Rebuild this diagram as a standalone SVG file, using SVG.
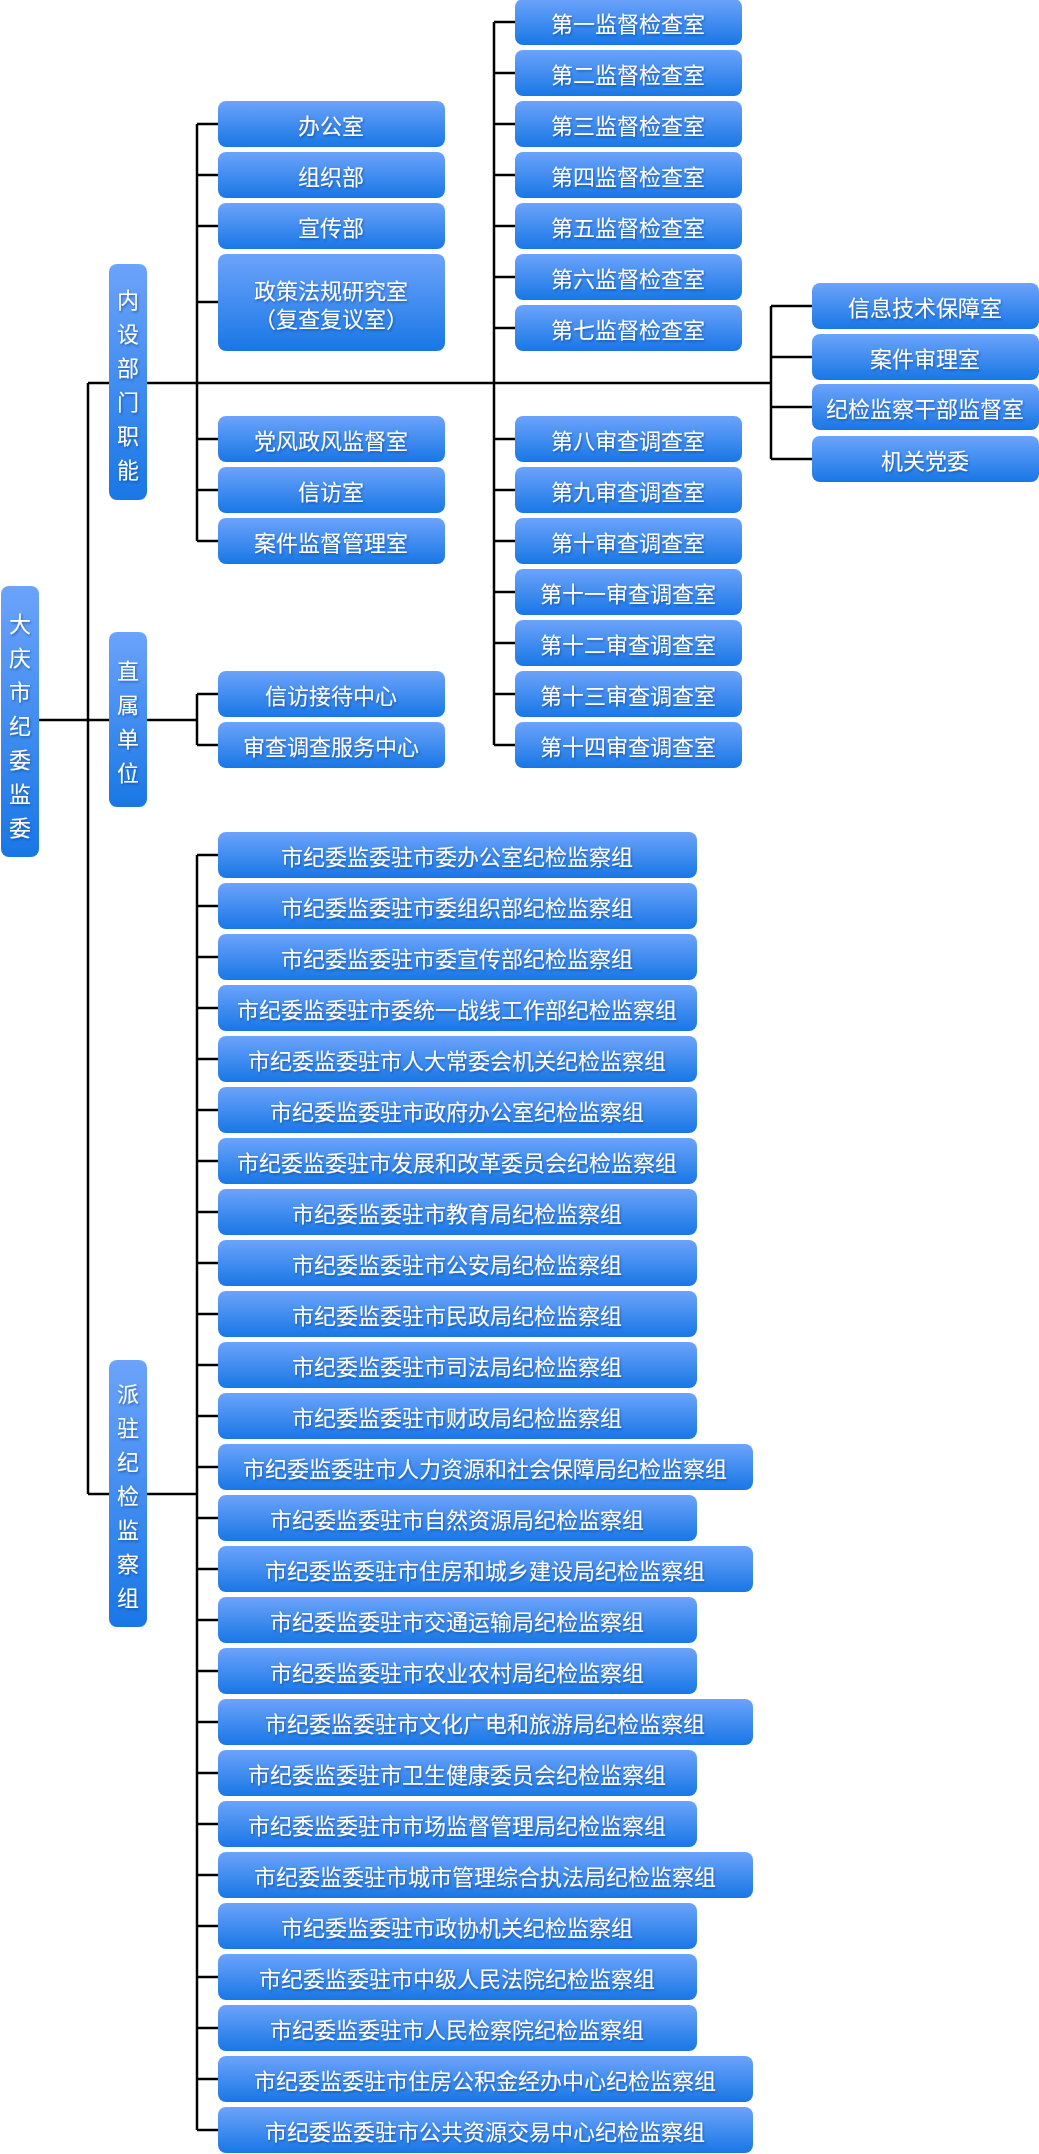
<svg xmlns="http://www.w3.org/2000/svg" width="1039" height="2154" viewBox="0 0 1039 2154">
<style>
.b{fill:url(#g)}
.t{font-family:"Noto Sans CJK SC","Noto Sans",sans-serif;font-size:22px;fill:#fff;text-anchor:middle;dominant-baseline:central;filter:url(#s)}
.c{fill:none;stroke:#000;stroke-width:2.5}
</style>
<defs>
<linearGradient id="g" x1="0" y1="0" x2="0" y2="1"><stop offset="0" stop-color="#6ca3fb"/><stop offset="1" stop-color="#1877e5"/></linearGradient>
<filter id="s" x="-10%" y="-30%" width="120%" height="160%"><feDropShadow dx="1" dy="1.5" stdDeviation="1" flood-color="#0a3a80" flood-opacity="0.6"/></filter>
</defs>
<g id="connectors" class="c">
<path d="M39 720H88M88 383V1494M88 383H109M147 383H771M88 720H109M88 1494H109"/>
<path d="M197 124V541M197 124H218M197 175H218M197 226H218M197 302H218M197 439H218M197 490H218M197 541H218"/>
<path d="M494 22V745M494 22H515M494 73H515M494 124H515M494 175H515M494 226H515M494 277H515M494 328H515M494 439H515M494 490H515M494 541H515M494 592H515M494 643H515M494 694H515M494 745H515"/>
<path d="M771 306V459M771 306H812M771 357H812M771 407H812M771 459H812"/>
<path d="M147 720H197M197 694V745M197 694H218M197 745H218"/>
<path d="M147 1494H197M197 855V2130M197 855H218M197 906H218M197 957H218M197 1008H218M197 1059H218M197 1110H218M197 1161H218M197 1212H218M197 1263H218M197 1314H218M197 1365H218M197 1416H218M197 1467H218M197 1518H218M197 1569H218M197 1620H218M197 1671H218M197 1722H218M197 1773H218M197 1824H218M197 1875H218M197 1926H218M197 1977H218M197 2028H218M197 2079H218M197 2130H218"/>
</g>
<g id="root"><rect class="b" x="1" y="586" width="38" height="271" rx="8"/><text class="t" x="20" y="622"><tspan x="20" y="622">大</tspan><tspan x="20" y="656">庆</tspan><tspan x="20" y="690">市</tspan><tspan x="20" y="724">纪</tspan><tspan x="20" y="758">委</tspan><tspan x="20" y="792">监</tspan><tspan x="20" y="826">委</tspan></text></g>
<g id="neishe"><rect class="b" x="109" y="264" width="38" height="236" rx="8"/><text class="t"><tspan x="128" y="298">内</tspan><tspan x="128" y="332">设</tspan><tspan x="128" y="366">部</tspan><tspan x="128" y="400">门</tspan><tspan x="128" y="434">职</tspan><tspan x="128" y="468">能</tspan></text></g>
<g id="zhishu"><rect class="b" x="109" y="632" width="38" height="175" rx="8"/><text class="t"><tspan x="128" y="669">直</tspan><tspan x="128" y="703">属</tspan><tspan x="128" y="737">单</tspan><tspan x="128" y="771">位</tspan></text></g>
<g id="paizhu"><rect class="b" x="109" y="1360" width="38" height="267" rx="8"/><text class="t"><tspan x="128" y="1392">派</tspan><tspan x="128" y="1426">驻</tspan><tspan x="128" y="1460">纪</tspan><tspan x="128" y="1494">检</tspan><tspan x="128" y="1528">监</tspan><tspan x="128" y="1562">察</tspan><tspan x="128" y="1596">组</tspan></text></g>
<g id="n1"><rect class="b" x="218" y="101" width="227" height="46" rx="8"/><text class="t" x="331" y="124">办公室</text></g>
<g id="n2"><rect class="b" x="218" y="152" width="227" height="46" rx="8"/><text class="t" x="331" y="175">组织部</text></g>
<g id="n3"><rect class="b" x="218" y="203" width="227" height="46" rx="8"/><text class="t" x="331" y="226">宣传部</text></g>
<g id="n4"><rect class="b" x="218" y="254" width="227" height="97" rx="8"/><text class="t" x="331" y="289">政策法规研究室</text><text class="t" x="331" y="317">（复查复议室）</text></g>
<g id="n5"><rect class="b" x="218" y="416" width="227" height="46" rx="8"/><text class="t" x="331" y="439">党风政风监督室</text></g>
<g id="n6"><rect class="b" x="218" y="467" width="227" height="46" rx="8"/><text class="t" x="331" y="490">信访室</text></g>
<g id="n7"><rect class="b" x="218" y="518" width="227" height="46" rx="8"/><text class="t" x="331" y="541">案件监督管理室</text></g>
<g id="m1"><rect class="b" x="515" y="-1" width="227" height="46" rx="8"/><text class="t" x="628" y="22">第一监督检查室</text></g>
<g id="m2"><rect class="b" x="515" y="50" width="227" height="46" rx="8"/><text class="t" x="628" y="73">第二监督检查室</text></g>
<g id="m3"><rect class="b" x="515" y="101" width="227" height="46" rx="8"/><text class="t" x="628" y="124">第三监督检查室</text></g>
<g id="m4"><rect class="b" x="515" y="152" width="227" height="46" rx="8"/><text class="t" x="628" y="175">第四监督检查室</text></g>
<g id="m5"><rect class="b" x="515" y="203" width="227" height="46" rx="8"/><text class="t" x="628" y="226">第五监督检查室</text></g>
<g id="m6"><rect class="b" x="515" y="254" width="227" height="46" rx="8"/><text class="t" x="628" y="277">第六监督检查室</text></g>
<g id="m7"><rect class="b" x="515" y="305" width="227" height="46" rx="8"/><text class="t" x="628" y="328">第七监督检查室</text></g>
<g id="m8"><rect class="b" x="515" y="416" width="227" height="46" rx="8"/><text class="t" x="628" y="439">第八审查调查室</text></g>
<g id="m9"><rect class="b" x="515" y="467" width="227" height="46" rx="8"/><text class="t" x="628" y="490">第九审查调查室</text></g>
<g id="m10"><rect class="b" x="515" y="518" width="227" height="46" rx="8"/><text class="t" x="628" y="541">第十审查调查室</text></g>
<g id="m11"><rect class="b" x="515" y="569" width="227" height="46" rx="8"/><text class="t" x="628" y="592">第十一审查调查室</text></g>
<g id="m12"><rect class="b" x="515" y="620" width="227" height="46" rx="8"/><text class="t" x="628" y="643">第十二审查调查室</text></g>
<g id="m13"><rect class="b" x="515" y="671" width="227" height="46" rx="8"/><text class="t" x="628" y="694">第十三审查调查室</text></g>
<g id="m14"><rect class="b" x="515" y="722" width="227" height="46" rx="8"/><text class="t" x="628" y="745">第十四审查调查室</text></g>
<g id="r1"><rect class="b" x="812" y="283" width="227" height="46" rx="8"/><text class="t" x="925" y="306">信息技术保障室</text></g>
<g id="r2"><rect class="b" x="812" y="334" width="227" height="46" rx="8"/><text class="t" x="925" y="357">案件审理室</text></g>
<g id="r3"><rect class="b" x="812" y="384" width="227" height="46" rx="8"/><text class="t" x="925" y="407">纪检监察干部监督室</text></g>
<g id="r4"><rect class="b" x="812" y="436" width="227" height="46" rx="8"/><text class="t" x="925" y="459">机关党委</text></g>
<g id="z1"><rect class="b" x="218" y="671" width="227" height="46" rx="8"/><text class="t" x="331" y="694">信访接待中心</text></g>
<g id="z2"><rect class="b" x="218" y="722" width="227" height="46" rx="8"/><text class="t" x="331" y="745">审查调查服务中心</text></g>
<g id="p1"><rect class="b" x="218" y="832" width="479" height="46" rx="8"/><text class="t" x="457" y="855">市纪委监委驻市委办公室纪检监察组</text></g>
<g id="p2"><rect class="b" x="218" y="883" width="479" height="46" rx="8"/><text class="t" x="457" y="906">市纪委监委驻市委组织部纪检监察组</text></g>
<g id="p3"><rect class="b" x="218" y="934" width="479" height="46" rx="8"/><text class="t" x="457" y="957">市纪委监委驻市委宣传部纪检监察组</text></g>
<g id="p4"><rect class="b" x="218" y="985" width="479" height="46" rx="8"/><text class="t" x="457" y="1008">市纪委监委驻市委统一战线工作部纪检监察组</text></g>
<g id="p5"><rect class="b" x="218" y="1036" width="479" height="46" rx="8"/><text class="t" x="457" y="1059">市纪委监委驻市人大常委会机关纪检监察组</text></g>
<g id="p6"><rect class="b" x="218" y="1087" width="479" height="46" rx="8"/><text class="t" x="457" y="1110">市纪委监委驻市政府办公室纪检监察组</text></g>
<g id="p7"><rect class="b" x="218" y="1138" width="479" height="46" rx="8"/><text class="t" x="457" y="1161">市纪委监委驻市发展和改革委员会纪检监察组</text></g>
<g id="p8"><rect class="b" x="218" y="1189" width="479" height="46" rx="8"/><text class="t" x="457" y="1212">市纪委监委驻市教育局纪检监察组</text></g>
<g id="p9"><rect class="b" x="218" y="1240" width="479" height="46" rx="8"/><text class="t" x="457" y="1263">市纪委监委驻市公安局纪检监察组</text></g>
<g id="p10"><rect class="b" x="218" y="1291" width="479" height="46" rx="8"/><text class="t" x="457" y="1314">市纪委监委驻市民政局纪检监察组</text></g>
<g id="p11"><rect class="b" x="218" y="1342" width="479" height="46" rx="8"/><text class="t" x="457" y="1365">市纪委监委驻市司法局纪检监察组</text></g>
<g id="p12"><rect class="b" x="218" y="1393" width="479" height="46" rx="8"/><text class="t" x="457" y="1416">市纪委监委驻市财政局纪检监察组</text></g>
<g id="p13"><rect class="b" x="218" y="1444" width="535" height="46" rx="8"/><text class="t" x="485" y="1467">市纪委监委驻市人力资源和社会保障局纪检监察组</text></g>
<g id="p14"><rect class="b" x="218" y="1495" width="479" height="46" rx="8"/><text class="t" x="457" y="1518">市纪委监委驻市自然资源局纪检监察组</text></g>
<g id="p15"><rect class="b" x="218" y="1546" width="535" height="46" rx="8"/><text class="t" x="485" y="1569">市纪委监委驻市住房和城乡建设局纪检监察组</text></g>
<g id="p16"><rect class="b" x="218" y="1597" width="479" height="46" rx="8"/><text class="t" x="457" y="1620">市纪委监委驻市交通运输局纪检监察组</text></g>
<g id="p17"><rect class="b" x="218" y="1648" width="479" height="46" rx="8"/><text class="t" x="457" y="1671">市纪委监委驻市农业农村局纪检监察组</text></g>
<g id="p18"><rect class="b" x="218" y="1699" width="535" height="46" rx="8"/><text class="t" x="485" y="1722">市纪委监委驻市文化广电和旅游局纪检监察组</text></g>
<g id="p19"><rect class="b" x="218" y="1750" width="479" height="46" rx="8"/><text class="t" x="457" y="1773">市纪委监委驻市卫生健康委员会纪检监察组</text></g>
<g id="p20"><rect class="b" x="218" y="1801" width="479" height="46" rx="8"/><text class="t" x="457" y="1824">市纪委监委驻市市场监督管理局纪检监察组</text></g>
<g id="p21"><rect class="b" x="218" y="1852" width="535" height="46" rx="8"/><text class="t" x="485" y="1875">市纪委监委驻市城市管理综合执法局纪检监察组</text></g>
<g id="p22"><rect class="b" x="218" y="1903" width="479" height="46" rx="8"/><text class="t" x="457" y="1926">市纪委监委驻市政协机关纪检监察组</text></g>
<g id="p23"><rect class="b" x="218" y="1954" width="479" height="46" rx="8"/><text class="t" x="457" y="1977">市纪委监委驻市中级人民法院纪检监察组</text></g>
<g id="p24"><rect class="b" x="218" y="2005" width="479" height="46" rx="8"/><text class="t" x="457" y="2028">市纪委监委驻市人民检察院纪检监察组</text></g>
<g id="p25"><rect class="b" x="218" y="2056" width="535" height="46" rx="8"/><text class="t" x="485" y="2079">市纪委监委驻市住房公积金经办中心纪检监察组</text></g>
<g id="p26"><rect class="b" x="218" y="2107" width="535" height="46" rx="8"/><text class="t" x="485" y="2130">市纪委监委驻市公共资源交易中心纪检监察组</text></g>
</svg>
